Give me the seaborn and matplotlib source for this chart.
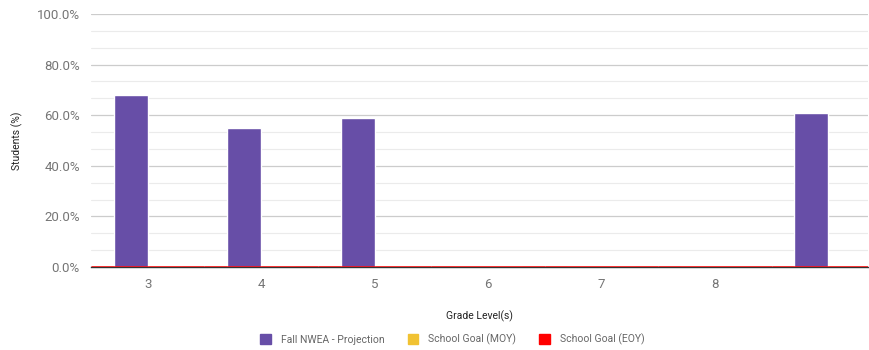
import numpy as np
import pandas as pd
import matplotlib
matplotlib.use("Agg")
import matplotlib.pyplot as plt
import seaborn as sns
from matplotlib.patches import Patch
from matplotlib.ticker import FixedLocator, FuncFormatter

# chart data
grades = ["3", "4", "5", "6", "7", "8", ""]
fall_nwea = [68, 55, 59, 0, 0, 0, 61]
goal_moy = [0, 0, 0, 0, 0, 0, 0]
goal_eoy = [0, 0, 0, 0, 0, 0, 0]
series_names = ["Fall NWEA - Projection", "School Goal (MOY)", "School Goal (EOY)"]
colors = ["#674ea7", "#f1c232", "#ff0000"]

sns.set_style("white")
plt.rcParams["font.family"] = ["Roboto", "DejaVu Sans"]

# long table for the grouped bars (position keeps blank category distinct)
df = pd.DataFrame({
    "pos": list(range(len(grades))) * 2,
    "value": fall_nwea + goal_moy,
    "series": [series_names[0]] * len(grades) + [series_names[1]] * len(grades),
})

fig = plt.figure(figsize=(8.7, 3.5), dpi=100)
ax = fig.add_axes([0.1046, 0.237, 0.893, 0.723])

sns.barplot(data=df, x="pos", y="value", hue="series", order=range(len(grades)),
            palette=colors[:2], saturation=1, width=0.6, ax=ax, legend=False, zorder=3)

# EOY goal drawn as a stepped line across each category
xs = np.arange(len(grades))
ax.hlines(goal_eoy, xs - 0.5, xs + 0.5, colors=colors[2], linewidth=1.8, zorder=4)

ax.set_xlim(-0.5, 6.35)
ax.set_ylim(0, 100)
ax.yaxis.set_major_locator(FixedLocator([0, 20, 40, 60, 80, 100]))
ax.yaxis.set_minor_locator(FixedLocator([v for v in np.arange(0, 100, 20 / 3)]))
ax.yaxis.set_major_formatter(FuncFormatter(lambda v, p: f"{v:.1f}%"))
ax.grid(axis="y", which="major", color="#cccccc", linewidth=0.9, zorder=0)
ax.grid(axis="y", which="minor", color="#ebebeb", linewidth=0.8, zorder=0)
ax.set_axisbelow(True)

ax.set_xticks(xs)
ax.set_xticklabels(grades)
ax.tick_params(axis="both", which="both", length=0, labelsize=9.5, labelcolor="#757575")
ax.tick_params(axis="x", pad=8)
ax.tick_params(axis="y", pad=8)

for s in ["top", "right", "left"]:
    ax.spines[s].set_visible(False)
ax.spines["bottom"].set_color("#333333")
ax.spines["bottom"].set_linewidth(1.0)

ax.set_xlabel("Grade Level(s)", fontsize=7.5, color="#222222", labelpad=14)
ax.set_ylabel("Students (%)", fontsize=7.5, color="#222222", labelpad=10)

handles = [Patch(facecolor=c, edgecolor=c) for c in colors]
fig.legend(handles, series_names, loc="center", bbox_to_anchor=(0.52, 0.03), ncol=3,
           frameon=False, fontsize=7.5, handlelength=1.0, handleheight=1.0,
           columnspacing=2.2, handletextpad=1.0, labelcolor="#666666")

fig.savefig("out.png", dpi=100)
